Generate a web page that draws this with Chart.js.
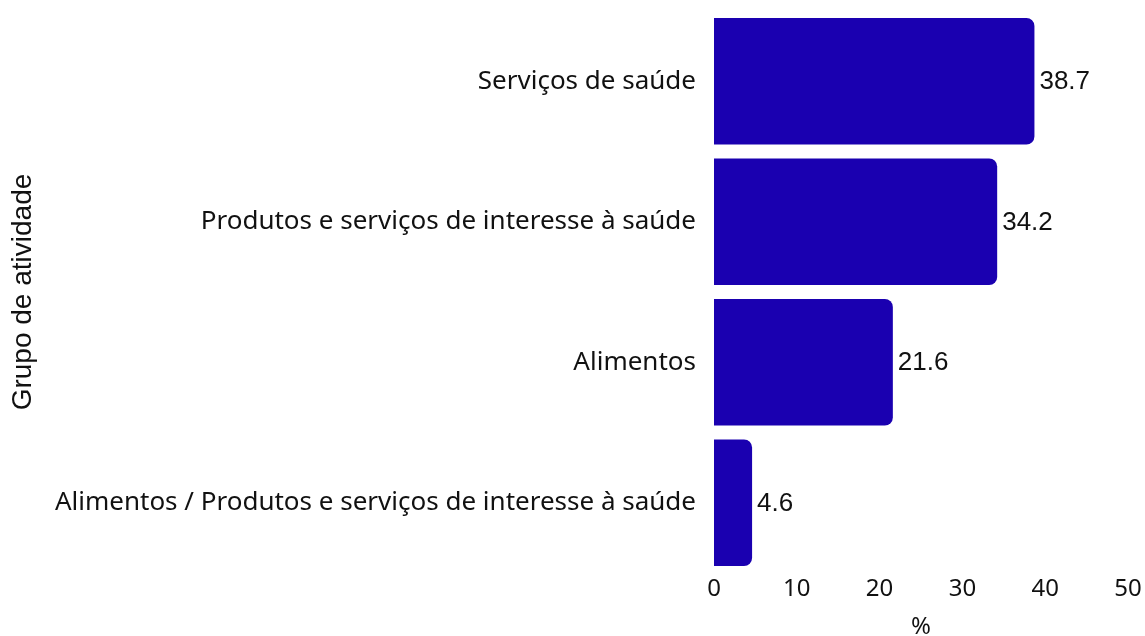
<!DOCTYPE html>
<html>
<head>
<meta charset="utf-8">
<script src="https://cdn.jsdelivr.net/npm/chart.js@4/dist/chart.umd.min.js"></script>
<style>
html,body{margin:0;padding:0;background:#fff;overflow:hidden;}
#wrap{width:1145px;height:642px;position:relative;}
</style>
</head>
<body>
<div id="wrap"><canvas id="c"></canvas></div>
<script>
const categories = [
  "Serviços de saúde",
  "Produtos e serviços de interesse à saúde",
  "Alimentos",
  "Alimentos / Produtos e serviços de interesse à saúde"
];
const values = [38.7, 34.2, 21.6, 4.6];
const xTicks = [0, 10, 20, 30, 40, 50];
const xTitle = "%";
const yTitle = "Grupo de atividade";

const FONT = "'Noto Sans', sans-serif";
const FONT2 = "'Liberation Sans', Arial, sans-serif";
Chart.defaults.font.family = FONT;
Chart.defaults.color = "#111";

const valueLabels = {
  id: 'valueLabels',
  afterDatasetsDraw(chart) {
    const ctx = chart.ctx;
    const meta = chart.getDatasetMeta(0);
    ctx.save();
    ctx.font = "26px " + FONT2;
    ctx.fillStyle = "#111";
    ctx.textAlign = "left";
    ctx.textBaseline = "middle";
    meta.data.forEach((bar, i) => {
      ctx.fillText(values[i].toFixed(1), bar.x + 5, bar.y + 1);
    });
    ctx.restore();
  }
};

new Chart(document.getElementById('c'), {
  type: 'bar',
  data: {
    labels: categories,
    datasets: [{
      data: values,
      backgroundColor: '#1a00b0',
      borderRadius: {topLeft: 0, bottomLeft: 0, topRight: 8, bottomRight: 8},
      borderSkipped: false,
      barPercentage: 0.9,
      categoryPercentage: 1.0
    }]
  },
  options: {
    indexAxis: 'y',
    responsive: true,
    maintainAspectRatio: false,
    animation: false,
    layout: {padding: {top: 11, right: 0, left: 4, bottom: 0}},
    plugins: {legend: {display: false}, tooltip: {enabled: false}},
    scales: {
      x: {
        min: 0, max: 50,
        afterBuildTicks(axis) { axis.ticks = xTicks.map(v => ({value: v})); },
        afterFit(axis) { axis.height = 69; axis.paddingRight = 17; axis.paddingLeft = 0; },
        grid: {display: false, drawTicks: false},
        border: {display: false},
        ticks: {font: {size: 24}, color: "#111", padding: 2, maxRotation: 0},
        title: {display: true, text: xTitle, font: {size: 24}, color: "#111", padding: {top: 0, bottom: 0}}
      },
      y: {
        afterFit(axis) { axis.width = 710; axis.paddingTop = 0; axis.paddingBottom = 0; },
        grid: {display: false, drawTicks: false},
        border: {display: false},
        ticks: {font: {size: 26}, color: "#111", padding: 18},
        title: {display: true, text: yTitle, font: {size: 28, family: FONT2}, color: "#111", padding: {top: 2, bottom: 0}}
      }
    }
  },
  plugins: [valueLabels]
});
</script>
</body>
</html>
